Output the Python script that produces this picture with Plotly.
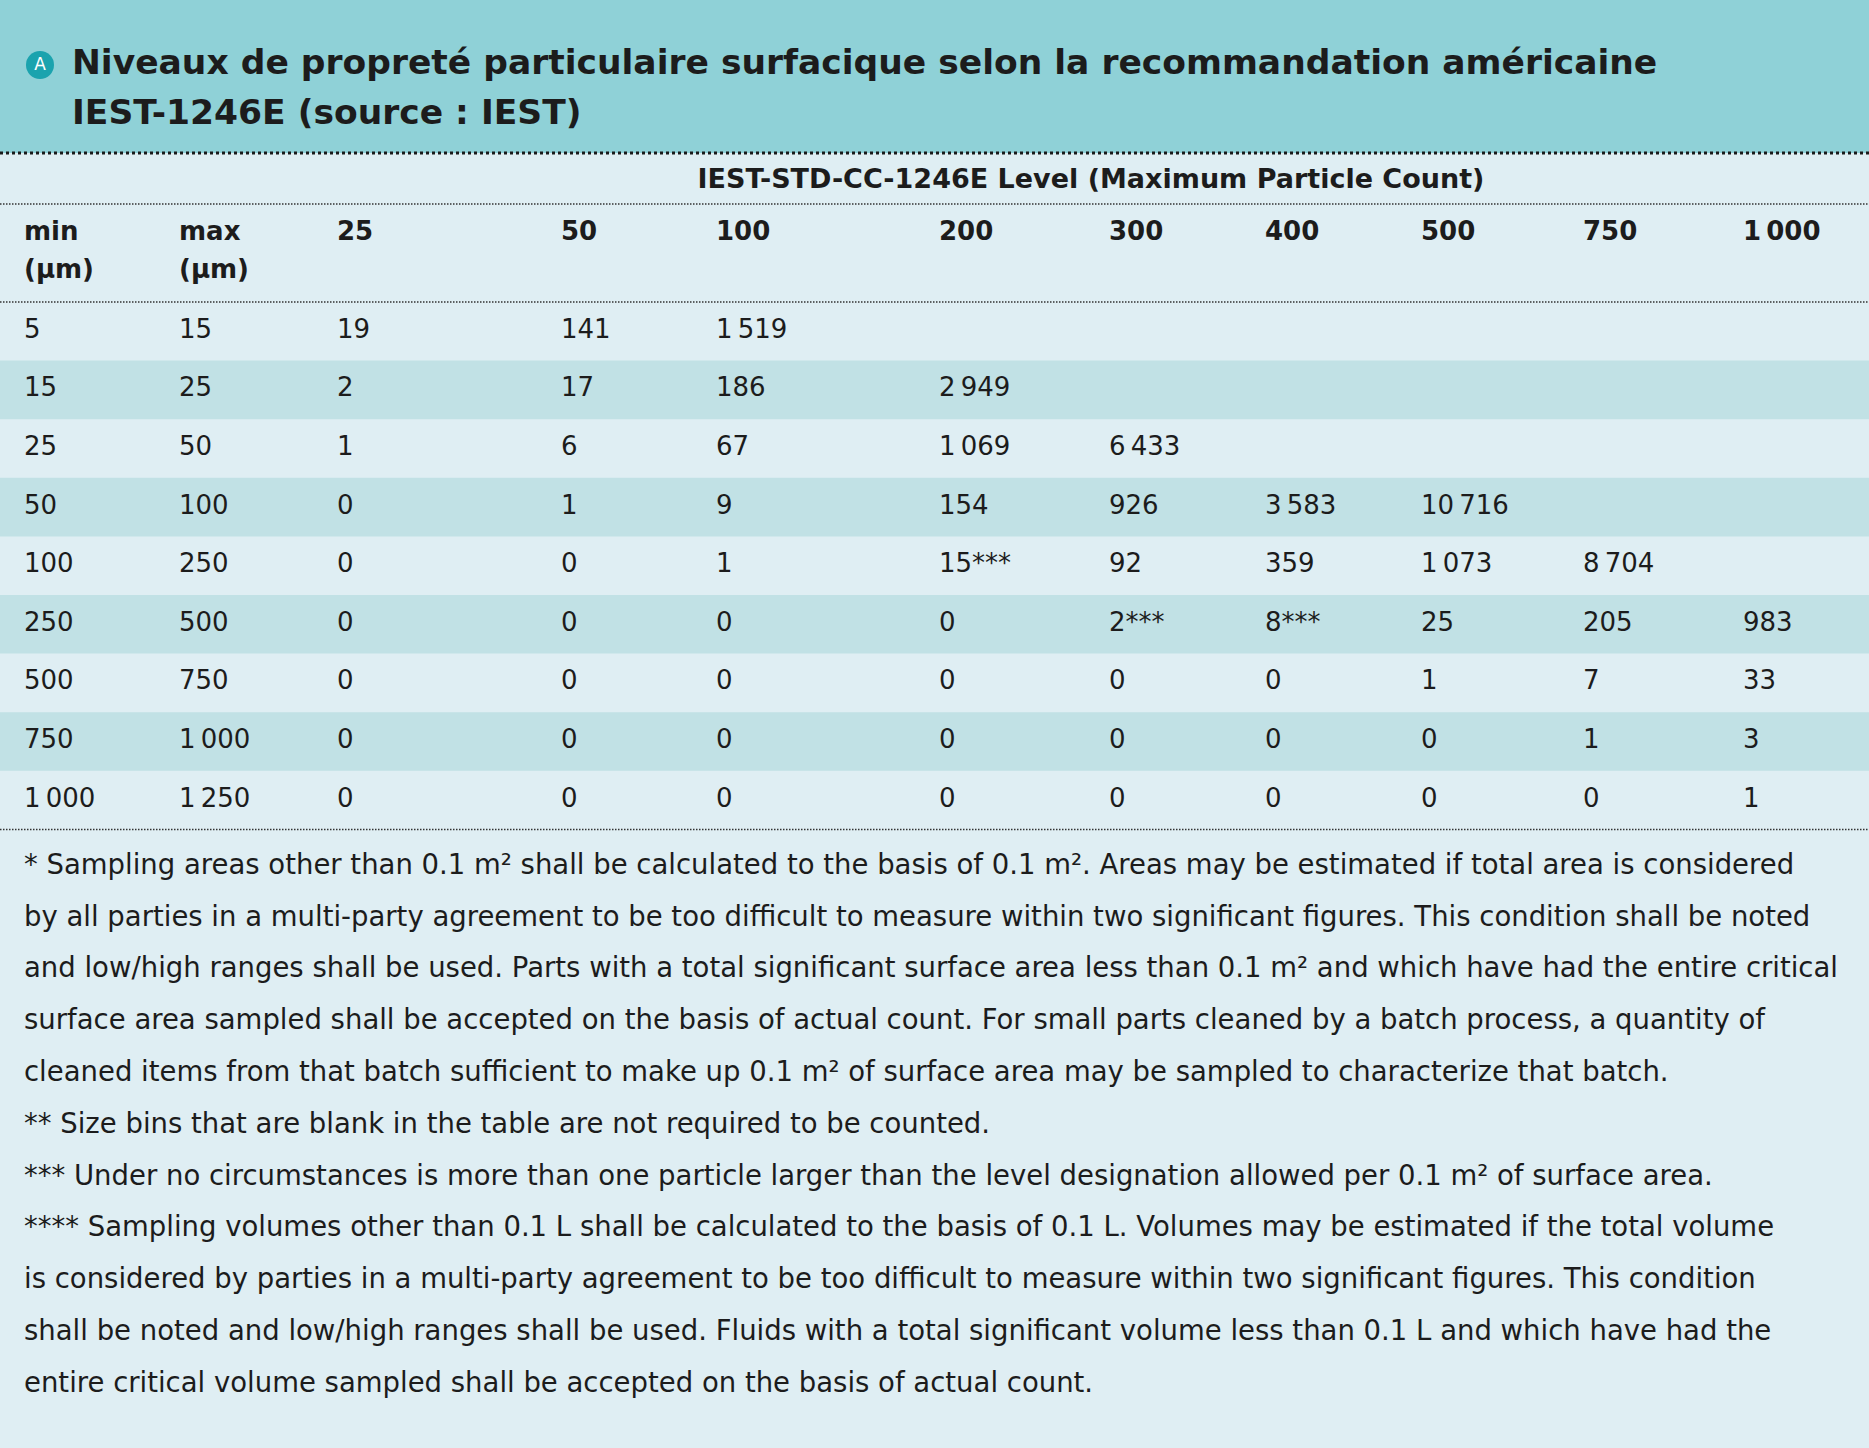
import plotly.graph_objects as go

# ---------------- data ----------------
TITLE_LINES = [
    "Niveaux de propreté particulaire surfacique selon la recommandation américaine",
    "IEST-1246E (source : IEST)",
]
BADGE = "A"
SUPER_HEADER = "IEST-STD-CC-1246E Level (Maximum Particle Count)"
HEAD_MIN = ["min", "(µm)"]
HEAD_MAX = ["max", "(µm)"]

MIN_UM = [5, 15, 25, 50, 100, 250, 500, 750, 1000]
MAX_UM = [15, 25, 50, 100, 250, 500, 750, 1000, 1250]
LEVELS = [25, 50, 100, 200, 300, 400, 500, 750, 1000]

COUNT_25 = [19, 2, 1, 0, 0, 0, 0, 0, 0]
COUNT_50 = [141, 17, 6, 1, 0, 0, 0, 0, 0]
COUNT_100 = [1519, 186, 67, 9, 1, 0, 0, 0, 0]
COUNT_200 = [None, 2949, 1069, 154, 15, 0, 0, 0, 0]
COUNT_300 = [None, None, 6433, 926, 92, 2, 0, 0, 0]
COUNT_400 = [None, None, None, 3583, 359, 8, 0, 0, 0]
COUNT_500 = [None, None, None, 10716, 1073, 25, 1, 0, 0]
COUNT_750 = [None, None, None, None, 8704, 205, 7, 1, 0]
COUNT_1000 = [None, None, None, None, None, 983, 33, 3, 1]
COUNTS = [COUNT_25, COUNT_50, COUNT_100, COUNT_200, COUNT_300,
          COUNT_400, COUNT_500, COUNT_750, COUNT_1000]

# cells carrying the "***" footnote mark: (row index, level)
FLAGGED = [(4, 200), (5, 300), (5, 400)]

FOOTNOTES = [
    "* Sampling areas other than 0.1 m² shall be calculated to the basis of 0.1 m². Areas may be estimated if total area is considered",
    "by all parties in a multi-party agreement to be too difficult to measure within two significant figures. This condition shall be noted",
    "and low/high ranges shall be used. Parts with a total significant surface area less than 0.1 m² and which have had the entire critical",
    "surface area sampled shall be accepted on the basis of actual count. For small parts cleaned by a batch process, a quantity of",
    "cleaned items from that batch sufficient to make up 0.1 m² of surface area may be sampled to characterize that batch.",
    "** Size bins that are blank in the table are not required to be counted.",
    "*** Under no circumstances is more than one particle larger than the level designation allowed per 0.1 m² of surface area.",
    "**** Sampling volumes other than 0.1 L shall be calculated to the basis of 0.1 L. Volumes may be estimated if the total volume",
    "is considered by parties in a multi-party agreement to be too difficult to measure within two significant figures. This condition",
    "shall be noted and low/high ranges shall be used. Fluids with a total significant volume less than 0.1 L and which have had the",
    "entire critical volume sampled shall be accepted on the basis of actual count.",
]

# ---------------- layout / style ----------------
W, H = 1869, 1448
BAND_H = 153
COL_X = [24, 179, 337, 561, 716, 939, 1109, 1265, 1421, 1583, 1743]
SUPER_X = 1091
SUPER_Y = 181
HEAD_Y = [233, 271]
ROW_TOP = 302
ROW_H = 58.6
RULE_Y = [204, 302, ROW_TOP + ROW_H * 9]
NOTE_Y0 = 867
NOTE_DY = 51.8
TITLE_X = 72
TITLE_Y = [65, 115]
BADGE_C = (40, 65)
BADGE_R = 14

BG = "#dfeef3"
BAND = "#8fd1d7"
STRIPE = "#c1e1e5"
BADGE_COL = "#1ba3ae"
TXT = "#1c1c1c"
FONT = "DejaVu Sans"

DATA_SIZE = 26
HEAD_SIZE = 26
SUPER_SIZE = 27
NOTE_SIZE = 27.5
TITLE_SIZE = 34.5


def fmt(v):
    return f"{v:,}".replace(",", "\u2009")


row_y = [ROW_TOP + ROW_H * (i + 0.5) for i in range(len(MIN_UM))]

fig = go.Figure()

# row cells
xs, ys, ts = [], [], []
for i in range(len(MIN_UM)):
    xs += [COL_X[0], COL_X[1]]
    ys += [row_y[i], row_y[i]]
    ts += [fmt(MIN_UM[i]), fmt(MAX_UM[i])]
    for j, lev in enumerate(LEVELS):
        v = COUNTS[j][i]
        if v is None:
            continue
        s = fmt(v)
        if (i, lev) in FLAGGED:
            s += "***"
        xs.append(COL_X[2 + j])
        ys.append(row_y[i])
        ts.append(s)
fig.add_trace(go.Scatter(
    x=xs, y=ys, text=ts, mode="text", textposition="middle right",
    textfont=dict(family=FONT, size=DATA_SIZE, color=TXT),
    hoverinfo="skip", showlegend=False))

# header cells
hx = [COL_X[0], COL_X[0], COL_X[1], COL_X[1]] + COL_X[2:]
hy = [HEAD_Y[0], HEAD_Y[1], HEAD_Y[0], HEAD_Y[1]] + [HEAD_Y[0]] * len(LEVELS)
ht = [HEAD_MIN[0], HEAD_MIN[1], HEAD_MAX[0], HEAD_MAX[1]] + [fmt(l) for l in LEVELS]
fig.add_trace(go.Scatter(
    x=hx, y=hy, text=ht, mode="text", textposition="middle right",
    textfont=dict(family=FONT, size=HEAD_SIZE, color=TXT, weight="bold"),
    hoverinfo="skip", showlegend=False))

fig.add_trace(go.Scatter(
    x=[SUPER_X], y=[SUPER_Y], text=[SUPER_HEADER], mode="text",
    textposition="middle center",
    textfont=dict(family=FONT, size=SUPER_SIZE, color=TXT, weight="bold"),
    hoverinfo="skip", showlegend=False))

# footnotes
fig.add_trace(go.Scatter(
    x=[COL_X[0]] * len(FOOTNOTES),
    y=[NOTE_Y0 + NOTE_DY * k for k in range(len(FOOTNOTES))],
    text=FOOTNOTES, mode="text", textposition="middle right",
    textfont=dict(family=FONT, size=NOTE_SIZE, color=TXT),
    hoverinfo="skip", showlegend=False))

# title
fig.add_trace(go.Scatter(
    x=[TITLE_X] * len(TITLE_LINES), y=TITLE_Y, text=TITLE_LINES,
    mode="text", textposition="middle right",
    textfont=dict(family=FONT, size=TITLE_SIZE, color=TXT, weight="bold"),
    hoverinfo="skip", showlegend=False))
fig.add_trace(go.Scatter(
    x=[BADGE_C[0]], y=[BADGE_C[1] + 1], text=[BADGE], mode="text",
    textposition="middle center",
    textfont=dict(family=FONT, size=17, color="white"),
    hoverinfo="skip", showlegend=False))

shapes = []
shapes.append(dict(type="rect", xref="x", yref="y", x0=0, x1=W, y0=0, y1=BAND_H,
                   fillcolor=BAND, line_width=0, layer="below"))
for i in range(1, len(MIN_UM), 2):
    shapes.append(dict(type="rect", xref="x", yref="y", x0=0, x1=W,
                       y0=ROW_TOP + ROW_H * i, y1=ROW_TOP + ROW_H * (i + 1),
                       fillcolor=STRIPE, line_width=0, layer="below"))
shapes.append(dict(type="circle", xref="x", yref="y",
                   x0=BADGE_C[0] - BADGE_R, x1=BADGE_C[0] + BADGE_R,
                   y0=BADGE_C[1] - BADGE_R, y1=BADGE_C[1] + BADGE_R,
                   fillcolor=BADGE_COL, line_width=0, layer="below"))
shapes.append(dict(type="line", xref="x", yref="y", x0=0, x1=W, y0=BAND_H, y1=BAND_H,
                   line=dict(color="#1a1a1a", width=3, dash="3px,3px")))
for yv in RULE_Y:
    shapes.append(dict(type="line", xref="x", yref="y", x0=0, x1=W, y0=yv, y1=yv,
                       line=dict(color="#333333", width=1.5, dash="1.5px,1.5px")))

fig.update_layout(
    width=W, height=H, margin=dict(l=0, r=0, t=0, b=0),
    paper_bgcolor=BG, plot_bgcolor=BG,
    xaxis=dict(range=[0, W], visible=False, fixedrange=True),
    yaxis=dict(range=[H, 0], visible=False, fixedrange=True),
    shapes=shapes, showlegend=False,
)
fig.write_html(
    "out.html",
    config={"displayModeBar": False},
    post_script="document.body.style.margin='0';document.body.style.padding='0';"
                "document.body.style.background='" + BG + "';",
)
